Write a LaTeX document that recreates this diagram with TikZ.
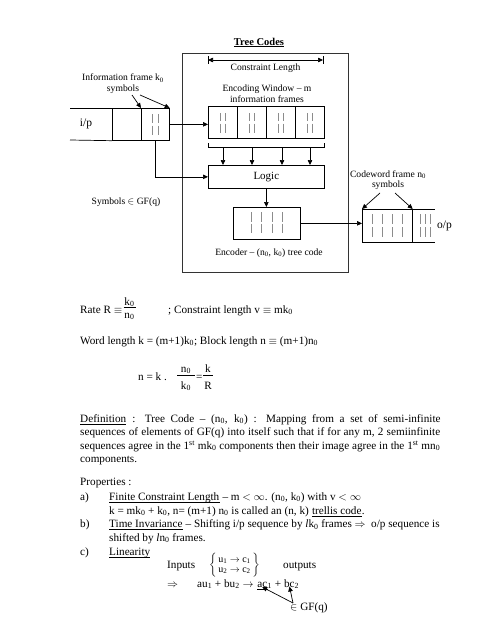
\documentclass[tikz,border=0pt]{standalone}
\usepackage{fontspec}
\setmainfont{Liberation Serif}
\usetikzlibrary{arrows.meta}
\newcommand\kz{k\textsubscript{0}}
\newcommand\nz{n\textsubscript{0}}
\newlength\defwd
\begin{document}
\begin{tikzpicture}[x=1pt,y=-1pt,
  ln/.style={line width=0.7pt},
  cell/.style={draw, line width=0.7pt, inner sep=0pt, anchor=north west},
  arr/.style={line width=0.7pt, -{Triangle[length=5pt,width=4.5pt]}},
  dsh/.style={draw=black!45, line width=0.5pt},
  lbl/.style={font=\fontsize{9.6}{10.5}\selectfont, align=center, inner sep=0pt},
  big/.style={font=\fontsize{11.5}{13}\selectfont, inner sep=0pt},
  txt/.style={font=\fontsize{11.2}{13.4}\selectfont, inner sep=0pt, anchor=base west},
  ul/.style={line width=0.5pt},
]
\useasboundingbox[fill=white] (0,0) rectangle (495,640);

% ---------- diagram ----------
\node[font=\bfseries\fontsize{10.5}{12}\selectfont, inner sep=0pt, anchor=base] (title) at (259,45) {Tree Codes};
\draw[ul, line width=0.6pt] ([yshift=-1.6pt]title.base west) -- ([yshift=-1.6pt]title.base east);
\node[cell, minimum width=166pt, minimum height=219pt, draw=black!80, line width=0.9pt] (outer) at (182,53) {};

% constraint length
\coordinate (cla) at (208,60);
\coordinate (clb) at (323,60);
\draw[ln] (208,56) -- (208,64);
\draw[ln] (323,56) -- (323,64);
\draw[line width=0.7pt, {Triangle[length=5pt,width=4.5pt]}-{Triangle[length=5pt,width=4.5pt]}] (cla) -- (clb);
\node[lbl] (cltxt) at (265.5,68) {Constraint Length};
\node[lbl] (ewtxt) at (267,93.5) {Encoding Window – m\\information frames};

% encoding window
\foreach \i in {0,...,3}
  \node[cell, minimum width=29pt, minimum height=32pt] (w\i) at (208+29*\i,106) {};
\foreach \x in {220,225,249,254,278,283,307,312}
  \draw[dsh] (\x,113) -- (\x,121) (\x,123.5) -- (\x,132.5);

% logic
\node[cell, minimum width=116pt, minimum height=23pt, font=\fontsize{11}{12}\selectfont] (logic) at (208,165) {Logic};
\draw[ln] (208,143) -- (208,147) -- (324,147) -- (324,143);
\foreach \x [count=\k] in {223,252,282,310} {
  \coordinate (b\k) at (\x,147);
  \draw[arr] (b\k) -- (b\k |- logic.north);
}

% output register
\node[cell, minimum width=67pt, minimum height=32pt] (reg) at (233,207) {};
\foreach \x in {251,261.5,272,282.5}
  \draw[dsh] (\x,212) -- (\x,221.5) (\x,223.5) -- (\x,232.5);
\draw[arr] (logic.south) -- (logic.south |- reg.north);
\node[lbl] (enctxt) at (269,253) {Encoder – (\nz, \kz) tree code};

% input strip
\node[cell, minimum width=29pt, minimum height=32pt] (ifa) at (112,108) {};
\node[cell, minimum width=28pt, minimum height=32pt] (ifr) at (141,108) {};
\draw[ln] (70,108) -- (ifa.north west);
\draw[ln] (70,140) -- (ifa.south west);
\foreach \x in {152,158}
  \draw[dsh] (\x,114) -- (\x,123) (\x,125.5) -- (\x,135);
\node[big] (ip) at (86,124) {i/p};
\draw[arr] (ifr.east) -- (ifr.east -| w0.west);
\draw[arr] (ifr.south) |- (logic.west);

\node[lbl] (infotxt) at (123,83.5) {Information frame \kz\\symbols};
\coordinate (ia1) at (132,95);
\coordinate (ia2) at (140,95);
\draw[arr] (ia1) -- (ifr.north west);
\draw[arr] (ia2) -- (ifr.north east);
\node[lbl] (sym) at (126,202) {Symbols $\in$ GF(q)};

% codeword frame
\node[cell, minimum width=50pt, minimum height=33pt] (cw) at (362,209) {};
\draw[ln] (cw.north east) -- ++(22,0);
\draw[ln] (cw.south east) -- ++(22,0);
\foreach \x in {372,382,392,402,420,425,430}
  \draw[dsh] (\x,214) -- (\x,224) (\x,227) -- (\x,237);
\draw[arr] (reg.east) -- (reg.east -| cw.west);
\node[big, anchor=west] (op) at (437,225.5) {o/p};
\node[lbl] (cwtxt) at (388,180) {Codeword frame \nz\\symbols};
\coordinate (ca1) at (380,193);
\coordinate (ca2) at (395,193);
\draw[arr] (ca1) -- (cw.north west);
\draw[arr] (ca2) -- (cw.north east);

% ---------- text ----------
\node[txt] (rate) at (80,313) {Rate R $\equiv$};
\node[txt, anchor=base] (rk) at (129.5,305) {\kz};
\draw[line width=0.5pt] (123.5,307) -- (135.5,307);
\node[txt, anchor=base] (rn) at (129.5,318) {\nz};
\node[txt] (cl) at (168,313) {; Constraint length v $\equiv$ m\kz};

\node[txt] (word) at (80,344) {Word length k = (m+1)\kz; Block length n $\equiv$ (m+1)\nz};

\node[txt] (nk) at (138,380) {n = k .};
\node[txt, anchor=base] (fn) at (186,372) {\nz};
\draw[line width=0.5pt] (177,375.5) -- (195,375.5);
\node[txt, anchor=base] (fk) at (186,389) {\kz};
\node[txt] (eqs) at (196,380) {=};
\node[txt, anchor=base] (fk2) at (208,372) {k};
\draw[line width=0.5pt] (203,375.5) -- (213,375.5);
\node[txt, anchor=base] (fr) at (208,389) {R};

\node[txt] (d1u) at (80,422) {Definition};
\draw[ul] ([yshift=-1.8pt]d1u.base west) -- ([yshift=-1.8pt]d1u.base east);
\node[txt] (d1) at (d1u.base east) {\settowidth\defwd{Definition}\makebox[\dimexpr360pt-\defwd\relax][s]{\ : Tree Code – (\nz, \kz) : Mapping from a set of semi-infinite}};
\node[txt] (d2) at (80,435.5) {\makebox[360pt][s]{sequences of elements of GF(q) into itself such that if for any m, 2 semiinfinite}};
\node[txt] (d3) at (80,449) {\makebox[360pt][s]{sequences agree in the 1\textsuperscript{st} m\kz{} components then their image agree in the 1\textsuperscript{st} m\nz}};
\node[txt] (d4) at (80,462) {components.};

\node[txt] (prop) at (80,485) {Properties :};
\node[txt] (pa) at (80,500) {a)};
\node[txt] (pa1u) at (109,500) {Finite Constraint Length};
\draw[ul] ([yshift=-1.8pt]pa1u.base west) -- ([yshift=-1.8pt]pa1u.base east);
\node[txt] (pa1) at (pa1u.base east) {\ – m $<\infty$. (\nz, \kz) with v $<\infty$};
\node[txt] (pa2) at (109,514) {k = m\kz{} + \kz, n= (m+1) \nz{} is called an (n, k)};
\node[txt] (pa2u) at ([xshift=2.8pt]pa2.base east) {trellis code};
\draw[ul] ([yshift=-1.8pt]pa2u.base west) -- ([yshift=-1.8pt]pa2u.base east);
\node[txt] (pa2e) at (pa2u.base east) {.};
\node[txt] (pb) at (80,527.5) {b)};
\node[txt] (pb1u) at (109,527.5) {Time Invariance};
\draw[ul] ([yshift=-1.8pt]pb1u.base west) -- ([yshift=-1.8pt]pb1u.base east);
\node[txt] (pb1) at (pb1u.base east) {\ – Shifting i/p sequence by \textit{l}\kz{} frames $\Rightarrow$\ \ o/p sequence is};
\node[txt] (pb2) at (109,541) {shifted by \textit{l}\nz{} frames.};
\node[txt] (pc) at (80,555) {c)};
\node[txt] (pc1) at (109,555) {Linearity};
\draw[ul] ([yshift=-1.8pt]pc1.base west) -- ([yshift=-1.8pt]pc1.base east);
\node[txt] (inp) at (167,568) {Inputs};
\node[inner sep=0pt, font=\fontsize{10}{10}\selectfont] (io) at (234.5,565)
  {$\left\{\begin{tabular}{@{\,}l@{\,}}u\textsubscript{1} $\to$ c\textsubscript{1}\\ u\textsubscript{2} $\to$ c\textsubscript{2}\end{tabular}\right\}$};
\node[txt] (outp) at (283,568) {outputs};
\node[txt] (impl) at (167,587) {$\Rightarrow$};
\node[txt] (eq) at (197,587) {au\textsubscript{1} + bu\textsubscript{2} $\to$};
\node[txt, xshift=3.5pt] (ac) at (eq.base east) {ac};
\draw[ul] ([yshift=-1.8pt]ac.base west) -- ([yshift=-1.8pt]ac.base east);
\node[txt] (ac2) at (ac.base east) {\textsubscript{1} + bc\textsubscript{2}};
\node[txt] (gf) at (290,610) {$\in$ GF(q)};
\coordinate (t1) at ([xshift=5pt]ac.base west);
\coordinate (t2) at (289.5,586.5);
\coordinate (g1) at (293,603);
\draw[arr] (g1) -- (t1);
\draw[arr] (g1) -- (t2);
\end{tikzpicture}
\end{document}
